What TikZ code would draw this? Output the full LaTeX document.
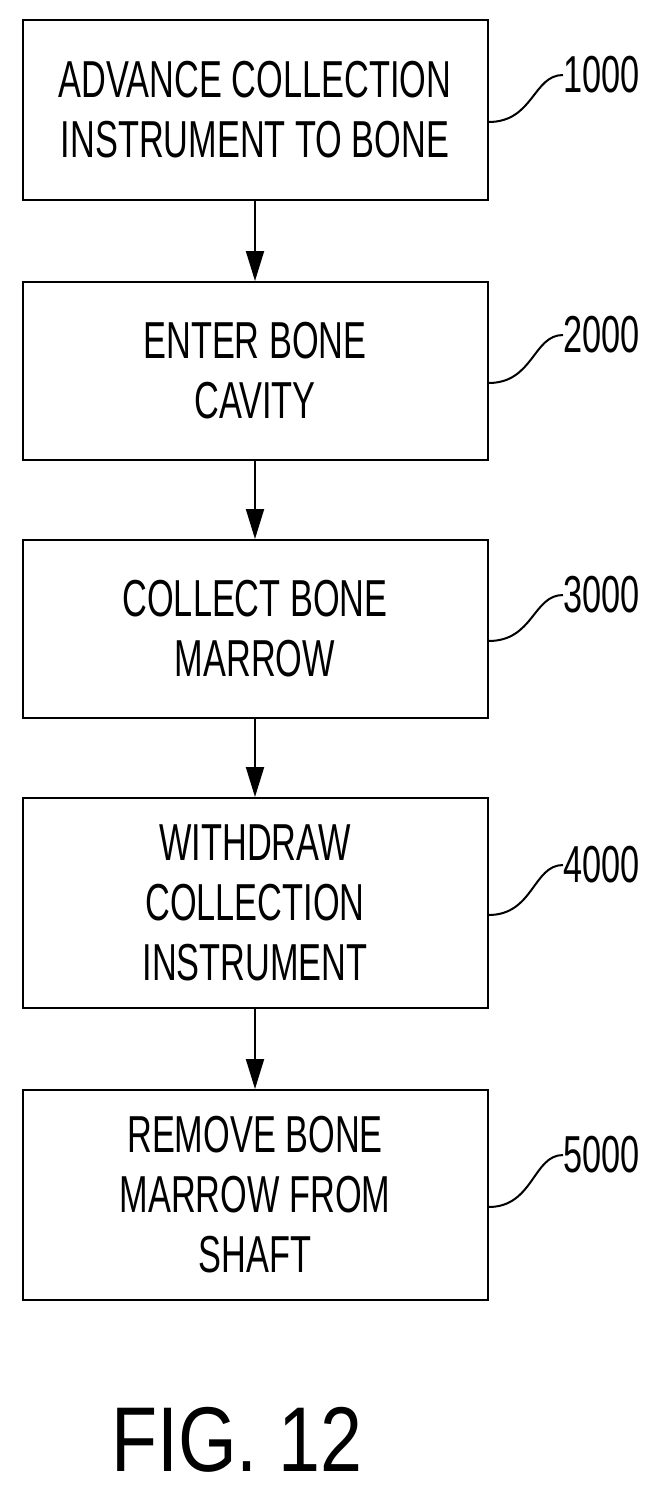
\documentclass[tikz,border=0pt]{standalone}
\usepackage{fontspec}
\setmainfont{Liberation Sans}
\newfontfamily\narrowfont[FakeStretch=0.66]{Liberation Sans}
\newfontfamily\figfont[FakeStretch=0.82]{Liberation Sans}
\usetikzlibrary{positioning,arrows.meta}
\tikzset{
  stepbox/.style={draw, line width=2pt, minimum width=465pt, align=center,
    font=\narrowfont\fontsize{52}{60}\selectfont},
  flow/.style={-{Triangle[length=30pt,width=18pt]}, line width=2pt},
  lead/.style={line width=2pt},
  ref/.style={font=\narrowfont\fontsize{52}{60}\selectfont, anchor=west, inner sep=0pt}
}
\begin{document}
\begin{tikzpicture}[x=1pt,y=-1pt]
    \useasboundingbox (0,0) rectangle (663,1492);
    % the steps
    \node[stepbox, minimum height=180pt] (s1) at (255,110) {ADVANCE COLLECTION\\INSTRUMENT TO BONE};
    \node[stepbox, minimum height=178pt] (s2) at (255,371) {ENTER BONE\\CAVITY};
    \node[stepbox, minimum height=178pt] (s3) at (255,629) {COLLECT BONE\\MARROW};
    \node[stepbox, minimum height=210pt] (s4) at (255,903) {WITHDRAW\\COLLECTION\\INSTRUMENT};
    \node[stepbox, minimum height=210pt] (s5) at (255,1195) {REMOVE BONE\\MARROW FROM\\SHAFT};
    % arrows between steps
    \foreach \a/\b in {s1/s2,s2/s3,s3/s4,s4/s5}
      \draw[flow] (\a.south) -- (\b.north);
    % reference numbers and leaders
    \foreach \s/\t/\y in {s1/1000/75,s2/2000/335,s3/3000/595,s4/4000/865,s5/5000/1155}
    {
      \node[ref] (r\t) at (563,\y) {\t};
      \coordinate (e\t) at ([yshift=-12pt]\s.east);
      \draw[lead] (e\t) .. controls +(45,0) and +(-30,0) .. (r\t.west);
    }
    \node[font=\figfont\fontsize{92}{100}\selectfont] (fig) at (237,1440) {FIG. 12};
\end{tikzpicture}
\end{document}
